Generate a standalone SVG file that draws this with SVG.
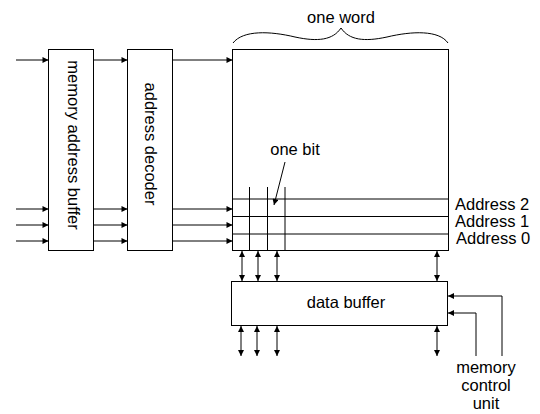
<svg xmlns="http://www.w3.org/2000/svg" width="540" height="414" viewBox="0 0 540 414">
<style>
.box{fill:#fff;stroke:#000;stroke-width:1}
.ln{fill:none;stroke:#000;stroke-width:1}
.arr{fill:none;stroke:#000;stroke-width:1;marker-end:url(#ah)}
.bi{fill:none;stroke:#000;stroke-width:1;marker-start:url(#ah);marker-end:url(#ah)}
text{font-family:"Liberation Sans",Arial,sans-serif;font-size:16.5px;fill:#000}
.c{text-anchor:middle}
</style>
<defs>
<marker id="ah" viewBox="0 0 10 10" refX="10" refY="5" markerWidth="7" markerHeight="6" markerUnits="userSpaceOnUse" orient="auto-start-reverse"><path d="M0,0 L10,5 L0,10 z" fill="#000"/></marker>
</defs>
<rect width="540" height="414" fill="#fff"/>
<g id="memory-address-buffer">
<rect class="box" x="48.5" y="49.5" width="45" height="201"/>
<text class="c" transform="translate(68,145) rotate(90)">memory address buffer</text>
</g>
<g id="address-decoder">
<rect class="box" x="127.5" y="49.5" width="45" height="201"/>
<text class="c" transform="translate(145,144) rotate(90)">address decoder</text>
</g>
<g id="memory-array">
<rect class="box" x="232.5" y="49.5" width="216" height="201"/>
<path class="ln" d="M232.5,199H448.5M232.5,216.5H448.5M232.5,234H448.5M249.5,187V250.5M267.5,187V250.5M285,187V250.5"/>
<path class="ln" d="M233,43 C243,30 270,31 295,37 C318,42 333,40 341,28 C349,40 364,42 387,37 C412,31 439,30 448,43"/>
<text class="c" x="341" y="23">one word</text>
<text class="c" x="295" y="155">one bit</text>
<text x="455" y="210">Address 2</text>
<text x="455" y="227">Address 1</text>
<text x="456" y="244">Address 0</text>
</g>
<g id="data-buffer">
<rect class="box" x="231.5" y="281.5" width="216" height="44"/>
<text class="c" x="346" y="307.5">data buffer</text>
</g>
<g id="memory-control-unit">
<text class="c" x="486" y="373">memory</text>
<text class="c" x="486" y="391">control</text>
<text class="c" x="486" y="409">unit</text>
</g>
<g id="connectors">
<path class="arr" d="M16,60H48.5"/>
<path class="arr" d="M94,60H127.5"/>
<path class="arr" d="M173,60H232.5"/>
<path class="arr" d="M16,209H48.5"/>
<path class="arr" d="M16,225H48.5"/>
<path class="arr" d="M16,241H48.5"/>
<path class="arr" d="M94,209H127.5"/>
<path class="arr" d="M94,225H127.5"/>
<path class="arr" d="M94,241H127.5"/>
<path class="arr" d="M173,209H232.5"/>
<path class="arr" d="M173,225H232.5"/>
<path class="arr" d="M173,241H232.5"/>
<path class="arr" d="M285,162L274,205"/>
<path class="bi" d="M242,251V281"/>
<path class="bi" d="M258,251V281"/>
<path class="bi" d="M277,251V281"/>
<path class="bi" d="M437,251V281"/>
<path class="bi" d="M241,326V356"/>
<path class="bi" d="M257,326V356"/>
<path class="bi" d="M277,326V356"/>
<path class="bi" d="M437,326V356"/>
<path class="arr" d="M502,356V296H448"/>
<path class="arr" d="M476,356V313H448"/>
</g>
</svg>
